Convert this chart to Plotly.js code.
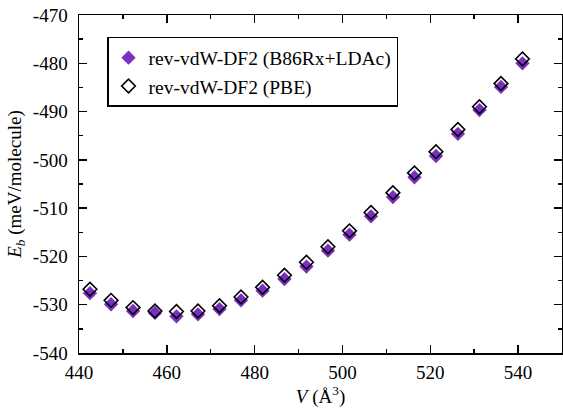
<!DOCTYPE html>
<html>
<head>
<meta charset="utf-8">
<script src="https://cdn.plot.ly/plotly-3.0.1.min.js"></script>
<style>
  html, body { margin: 0; padding: 0; background: #ffffff; }
  #chart { width: 563px; height: 409px; }
</style>
</head>
<body>
<div id="chart"></div>
<script>
// Unit-cell volume (Å^3)
const volume = [442.5, 447.3, 452.3, 457.3, 462.2, 467.1, 472.0, 476.9, 481.8, 486.8,
                491.8, 496.7, 501.6, 506.5, 511.5, 516.4, 521.3, 526.3, 531.2, 536.1, 541.0];

// Binding energy (meV/molecule), rev-vdW-DF2 with B86Rx+LDAc
const ebB86 = [-527.6, -529.9, -531.3, -531.7, -532.4, -532.0, -530.9, -529.1, -527.1, -524.7,
               -522.1, -518.8, -515.5, -511.7, -507.7, -503.6, -499.2, -494.6, -489.7, -484.9, -480.0];

// Binding energy (meV/molecule), rev-vdW-DF2 with PBE
const ebPBE = [-526.8, -529.1, -530.6, -531.3, -531.4, -531.3, -530.2, -528.4, -526.4, -523.9,
               -521.2, -518.0, -514.7, -510.9, -506.8, -502.7, -498.3, -493.7, -489.0, -484.2, -479.1];

const seriesNames = ['rev-vdW-DF2 (B86Rx+LDAc)', 'rev-vdW-DF2 (PBE)'];

// Energy axis ticks, labelled with a plain hyphen
const yTickVals = [-540, -530, -520, -510, -500, -490, -480, -470];
const yTickText = ['-540', '-530', '-520', '-510', '-500', '-490', '-480', '-470'];

const serif = 'Liberation Serif, Times New Roman, serif';
const purple = '#7a2fc0';

const traces = [
  {
    x: volume, y: ebB86, name: seriesNames[0],
    type: 'scatter', mode: 'markers',
    marker: { symbol: 'diamond', size: 11, color: purple, line: { width: 0 } }
  },
  {
    x: volume, y: ebPBE, name: seriesNames[1],
    type: 'scatter', mode: 'markers',
    marker: { symbol: 'diamond-open', size: 10.5, color: '#000000', line: { width: 1.6, color: '#000000' } }
  }
];

const axisCommon = {
  showline: true, linecolor: '#000000', linewidth: 1.5,
  mirror: 'allticks', ticks: 'inside', ticklen: 8, tickwidth: 1.5, tickcolor: '#000000',
  showgrid: false, zeroline: false,
  tickfont: { family: serif, size: 19, color: '#000000' }
};

const layout = {
  width: 563, height: 409,
  margin: { l: 79, r: 1, t: 15, b: 56 },
  paper_bgcolor: '#ffffff', plot_bgcolor: '#ffffff',
  showlegend: true,
  xaxis: Object.assign({}, axisCommon, {
    range: [440, 550], tickmode: 'linear', tick0: 440, dtick: 20,
    ticklabelstandoff: 2,
    minor: { tickmode: 'linear', tick0: 440, dtick: 10, ticks: 'inside', ticklen: 4, tickwidth: 1.5, tickcolor: '#000000' },
    title: { text: '<i>V</i> (Å<sup>3</sup>)', font: { family: serif, size: 19, color: '#000000' }, standoff: 4 }
  }),
  yaxis: Object.assign({}, axisCommon, {
    range: [-540, -470], tickmode: 'array', tickvals: yTickVals, ticktext: yTickText,
    ticklabelstandoff: 6,
    minor: { tickmode: 'linear', tick0: -540, dtick: 5, ticks: 'inside', ticklen: 4, tickwidth: 1.5, tickcolor: '#000000' },
    title: { text: '<i>E</i><sub><i>b</i></sub> (meV/molecule)', font: { family: serif, size: 19, color: '#000000' }, standoff: 6 }
  }),
  legend: {
    x: 0.058, y: 0.935, xanchor: 'left', yanchor: 'top',
    bgcolor: '#ffffff', bordercolor: '#000000', borderwidth: 1.5,
    font: { family: serif, size: 19.5, color: '#000000' },
    itemwidth: 30
  }
};

Plotly.newPlot('chart', traces, layout, { displayModeBar: false, staticPlot: true });
</script>
</body>
</html>
